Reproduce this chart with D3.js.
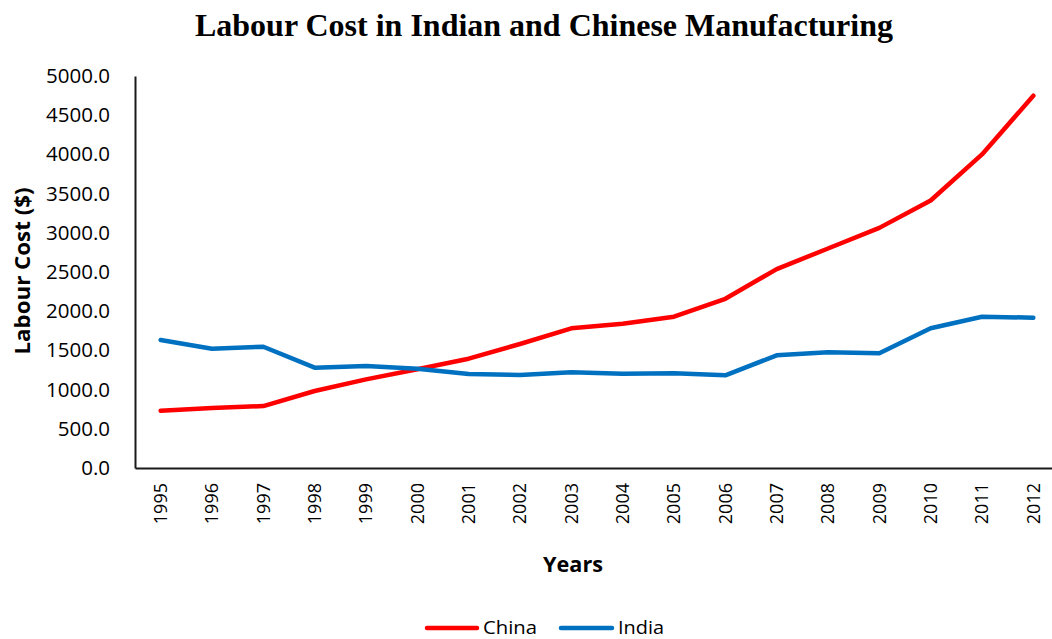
<!DOCTYPE html>
<html>
<head>
<meta charset="utf-8">
<script src="https://cdn.jsdelivr.net/npm/d3@7"></script>
<style>
  html, body { margin: 0; padding: 0; background: #fff; }
  svg { display: block; }
</style>
</head>
<body>
<svg id="chart" width="1052" height="639"></svg>
<script>
// Labour cost per worker in manufacturing, USD
const years = ["1995","1996","1997","1998","1999","2000","2001","2002","2003",
               "2004","2005","2006","2007","2008","2009","2010","2011","2012"];
const china = [730, 765, 790, 982, 1130, 1260, 1394, 1582, 1782,
               1840, 1930, 2158, 2537, 2800, 3063, 3412, 4000, 4748];
const india = [1633, 1522, 1547, 1280, 1300, 1267, 1199, 1186, 1221,
               1203, 1207, 1182, 1437, 1476, 1463, 1782, 1930, 1917];
const yTicks = [0, 500, 1000, 1500, 2000, 2500, 3000, 3500, 4000, 4500, 5000];

const seriesList = [
  { name: "China", values: china, color: "#FF0000" },
  { name: "India", values: india, color: "#0070C0" }
];

const svg = d3.select("#chart");
const sans = "'Open Sans', 'Liberation Sans', sans-serif";

const plot = { left: 135, top: 76, bottom: 468, right: 1059 };

const x = d3.scaleBand().domain(years).range([plot.left, plot.right]).padding(0);
const y = d3.scaleLinear().domain([0, 5000]).range([plot.bottom, plot.top]);

// Title
svg.append("text")
  .attr("x", 544).attr("y", 36)
  .attr("text-anchor", "middle")
  .attr("font-family", "'Liberation Serif', 'Times New Roman', serif")
  .attr("font-weight", "bold")
  .attr("font-size", 31)
  .attr("textLength", 698).attr("lengthAdjust", "spacingAndGlyphs")
  .attr("fill", "#000")
  .text("Labour Cost in Indian and Chinese Manufacturing");

// Y axis
const yAxis = svg.append("g")
  .attr("transform", `translate(${plot.left},0)`)
  .call(d3.axisLeft(y).tickValues(yTicks).tickFormat(d3.format(".1f")).tickSize(0).tickPadding(25));
yAxis.select(".domain").attr("stroke", "#1a1a1a").attr("stroke-width", 2);
yAxis.selectAll("text")
  .attr("font-family", sans).attr("font-size", 20.5).attr("fill", "#000");

// X axis
const xAxis = svg.append("g")
  .attr("transform", `translate(0,${plot.bottom})`)
  .call(d3.axisBottom(x).tickSize(0).tickPadding(0));
xAxis.select(".domain").attr("stroke", "#1a1a1a").attr("stroke-width", 2);
xAxis.selectAll("text")
  .attr("font-family", sans).attr("font-size", 18).attr("fill", "#000")
  .attr("text-anchor", "end")
  .attr("transform", "rotate(-90)")
  .attr("x", -15).attr("y", 0).attr("dy", "0.35em");

// Axis titles
svg.append("text")
  .attr("transform", "translate(30,271) rotate(-90)")
  .attr("text-anchor", "middle")
  .attr("font-family", sans).attr("font-weight", "bold").attr("font-size", 21)
  .attr("textLength", 167).attr("lengthAdjust", "spacingAndGlyphs")
  .attr("fill", "#000")
  .text("Labour Cost ($)");

svg.append("text")
  .attr("x", 573).attr("y", 572)
  .attr("text-anchor", "middle")
  .attr("font-family", sans).attr("font-weight", "bold").attr("font-size", 21)
  .attr("textLength", 60).attr("lengthAdjust", "spacingAndGlyphs")
  .attr("fill", "#000")
  .text("Years");

// Series lines
const line = d3.line()
  .x((d, i) => x(years[i]) + x.bandwidth() / 2)
  .y(d => y(d));

svg.append("g").selectAll("path")
  .data(seriesList)
  .join("path")
  .attr("d", s => line(s.values))
  .attr("fill", "none")
  .attr("stroke", s => s.color)
  .attr("stroke-width", 4.5)
  .attr("stroke-linejoin", "round")
  .attr("stroke-linecap", "round");

// Legend
const legendItems = [
  { name: "China", color: "#FF0000", x0: 427, x1: 477, tx: 483, tw: 54 },
  { name: "India", color: "#0070C0", x0: 561, x1: 612, tx: 618, tw: 46 }
];
const lg = svg.append("g");
legendItems.forEach(item => {
  lg.append("line")
    .attr("x1", item.x0).attr("x2", item.x1)
    .attr("y1", 628).attr("y2", 628)
    .attr("stroke", item.color).attr("stroke-width", 4.5)
    .attr("stroke-linecap", "round");
  lg.append("text")
    .attr("x", item.tx).attr("y", 634)
    .attr("font-family", sans).attr("font-size", 18)
    .attr("textLength", item.tw).attr("lengthAdjust", "spacingAndGlyphs")
    .attr("fill", "#000")
    .text(item.name);
});
</script>
</body>
</html>
